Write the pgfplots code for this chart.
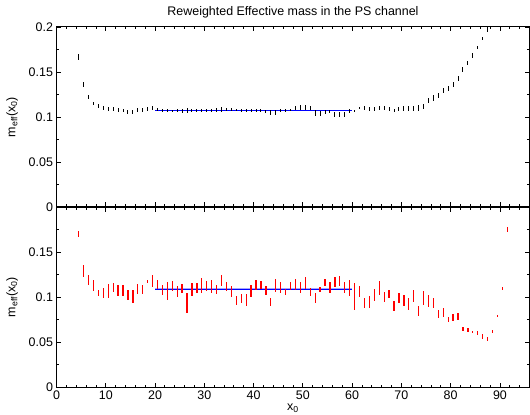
\documentclass[border=0pt]{standalone}
\usepackage{pgfplots}
\usepackage{pgfplotstable}
\pgfplotsset{compat=1.18}
\usepackage{fontspec}
\setmainfont{Liberation Sans}

\pgfplotstableread{
x y e
4.5 0.167 0.0035
5.5 0.136 0.0025
6.5 0.122 0.002
7.5 0.115 0.002
8.5 0.112 0.002
9.5 0.110 0.002
10.5 0.109 0.002
11.5 0.109 0.002
12.5 0.1075 0.002
13.5 0.107 0.002
14.5 0.1055 0.0022
15.5 0.106 0.0022
16.5 0.1075 0.002
17.5 0.108 0.002
18.5 0.109 0.002
19.5 0.110 0.002
20.5 0.108 0.0015
21.5 0.1072 0.0015
22.5 0.107 0.0015
23.5 0.1068 0.0015
24.5 0.1072 0.002
25.5 0.1068 0.002
26.5 0.1072 0.0025
27.5 0.1074 0.002
28.5 0.107 0.002
29.5 0.107 0.0015
30.5 0.107 0.002
31.5 0.1074 0.0015
32.5 0.108 0.002
33.5 0.1083 0.0025
34.5 0.1083 0.002
35.5 0.108 0.0015
36.5 0.1077 0.0015
37.5 0.107 0.0015
38.5 0.107 0.0015
39.5 0.1074 0.0015
40.5 0.1074 0.0015
41.5 0.107 0.002
42.5 0.106 0.002
43.5 0.105 0.0025
44.5 0.105 0.0025
45.5 0.107 0.0015
46.5 0.107 0.0015
47.5 0.1078 0.0015
48.5 0.110 0.0025
49.5 0.1103 0.0025
50.5 0.1103 0.0025
51.5 0.1097 0.002
52.5 0.1045 0.003
53.5 0.104 0.0025
54.5 0.1055 0.002
55.5 0.106 0.002
56.5 0.103 0.003
57.5 0.1027 0.003
58.5 0.1025 0.003
59.5 0.1065 0.002
60.5 0.1063 0.001
61.5 0.110 0.0015
62.5 0.110 0.002
63.5 0.1086 0.002
64.5 0.1086 0.002
65.5 0.1097 0.002
66.5 0.110 0.002
67.5 0.109 0.002
68.5 0.1074 0.0015
69.5 0.1086 0.002
70.5 0.1097 0.0025
71.5 0.1097 0.0025
72.5 0.1097 0.0025
73.5 0.1097 0.0035
74.5 0.1119 0.003
75.5 0.1186 0.003
76.5 0.1211 0.003
77.5 0.124 0.003
78.5 0.1297 0.003
79.5 0.1315 0.003
80.5 0.136 0.003
81.5 0.1426 0.0025
82.5 0.1526 0.0025
83.5 0.160 0.0025
84.5 0.1686 0.0025
85.5 0.177 0.002
86.5 0.187 0.002
87.5 0.1974 0.0025
}\toptab

\pgfplotstableread{
x y e
4.5 0.1697 0.0033
5.5 0.129 0.007
6.5 0.1186 0.0055
7.5 0.113 0.006
8.5 0.1045 0.0037
9.5 0.1045 0.0055
10.5 0.107 0.008
11.5 0.111 0.005
12.5 0.107 0.006
13.5 0.107 0.006
14.5 0.1027 0.0055
15.5 0.1008 0.0074
16.5 0.1089 0.0055
17.5 0.1078 0.005
18.5 0.1174 0.002
19.5 0.1174 0.0066
20.5 0.1134 0.005
21.5 0.1078 0.006
22.5 0.107 0.01
23.5 0.1119 0.0055
24.5 0.106 0.006
25.5 0.1093 0.0046
26.5 0.0933 0.011
27.5 0.108 0.0074
28.5 0.110 0.0055
29.5 0.113 0.0083
30.5 0.1119 0.0055
31.5 0.1115 0.007
32.5 0.1085 0.005
33.5 0.1182 0.0065
34.5 0.1122 0.005
35.5 0.106 0.006
36.5 0.0956 0.005
37.5 0.0982 0.0046
38.5 0.0963 0.0065
39.5 0.107 0.0065
40.5 0.113 0.0057
41.5 0.1133 0.004
42.5 0.1067 0.005
43.5 0.0944 0.004
44.5 0.113 0.0074
45.5 0.1104 0.006
46.5 0.1056 0.003
47.5 0.1119 0.0046
48.5 0.1141 0.006
49.5 0.1107 0.0065
50.5 0.1156 0.0063
51.5 0.1052 0.0043
52.5 0.0989 0.0055
53.5 0.1082 0.0026
54.5 0.116 0.004
55.5 0.1107 0.0065
56.5 0.1167 0.0057
57.5 0.1178 0.006
58.5 0.1104 0.006
59.5 0.110 0.009
60.5 0.1011 0.015
61.5 0.1063 0.0063
62.5 0.0933 0.0055
63.5 0.0944 0.0065
64.5 0.1022 0.007
65.5 0.110 0.0083
66.5 0.0996 0.0057
67.5 0.1037 0.0043
68.5 0.0900 0.0052
69.5 0.0985 0.0055
70.5 0.096 0.0065
71.5 0.0926 0.0068
72.5 0.1015 0.0065
73.5 0.0841 0.0055
74.5 0.099 0.0074
75.5 0.0952 0.0065
76.5 0.0933 0.0055
77.5 0.0815 0.0046
78.5 0.0826 0.0052
79.5 0.0748 0.003
80.5 0.0776 0.004
81.5 0.0782 0.004
82.5 0.0645 0.0025
83.5 0.0634 0.0022
84.5 0.0611 0.0015
85.5 0.060 0.002
86.5 0.0556 0.0028
87.5 0.053 0.0022
88.5 0.0619 0.0018
89.5 0.079 0.0015
90.5 0.1093 0.0015
91.5 0.1748 0.0025
}\bottab

\pgfplotsset{
  myaxis/.style={
    scale only axis, width=473bp, height=180bp,
    xmin=0, xmax=96, ymin=0, ymax=0.2,
    xtick={0,10,20,30,40,50,60,70,80,90},
    minor xtick={0,2,...,96},
    minor ytick={0.025,0.075,0.125,0.175},
    tick align=inside,
    major tick length=4.5bp, minor tick length=2.5bp,
    axis line style={line width=1bp},
    every tick/.style={black, line width=0.8bp},
    tick label style={font=\fontsize{12.5}{14}\selectfont},
    label style={font=\fontsize{12.5}{14}\selectfont},
    scaled y ticks=false,
    ylabel={m\textsubscript{eff}(x\textsubscript{0})},
    ylabel style={at={(axis description cs:-0.094,0.5)}, anchor=center},
  }
}

\begin{document}
\begin{tikzpicture}
\begin{axis}[myaxis, at={(0,0)}, anchor=south west,
  ytick={0,0.05,0.1,0.15},
  yticklabels={0,0.05,0.1,0.15},
  xticklabels={0,10,20,30,40,50,60,70,80,90},
  xlabel={x\textsubscript{0}},
  xlabel style={at={(axis description cs:0.5,-0.118)}, anchor=center},
]
\addplot[fill=blue!35, draw=none] coordinates {(20,0.1076) (60,0.1076) (60,0.1096) (20,0.1096)} -- cycle;
\addplot[blue, line width=1bp] coordinates {(20,0.1086) (60,0.1086)};
\addplot[draw=none, mark=none, error bars/.cd, y dir=both, y explicit, error mark=none,
  error bar style={draw=red, line width=1.3bp}] table[x=x, y=y, y error=e] {\bottab};
\end{axis}
\begin{axis}[myaxis, at={(0,180bp)}, anchor=south west, name=top,
  ytick={0,0.05,0.1,0.15,0.2},
  yticklabels={0,0.05,0.1,0.15,0.2},
  xticklabels={},
]
\addplot[blue, line width=1bp] coordinates {(20,0.1074) (60,0.1074)};
\addplot[draw=none, mark=none, error bars/.cd, y dir=both, y explicit, error mark=none,
  error bar style={draw=black, line width=1bp}] table[x=x, y=y, y error=e] {\toptab};
\end{axis}
\node[anchor=center, font=\fontsize{12.5}{14}\selectfont] at ([yshift=15bp]top.north) {Reweighted Effective mass in the PS channel};
\pgfresetboundingbox
\useasboundingbox (-56.5bp,-28bp) rectangle (473.5bp,387bp);
\end{tikzpicture}
\end{document}
